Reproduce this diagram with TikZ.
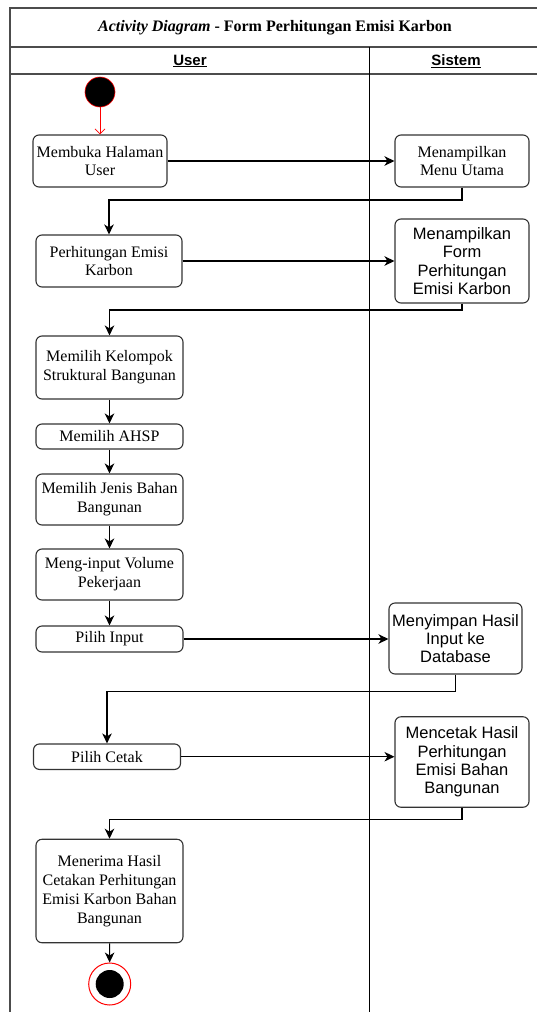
\documentclass[tikz,border=0pt]{standalone}
\usepackage{fontspec}
\setmainfont{Liberation Serif}
\setsansfont{Liberation Sans}
\usetikzlibrary{arrows.meta}
\begin{document}
\begin{tikzpicture}[x=1pt,y=-1pt,
  frameline/.style={draw=black!70, line width=1.4pt},
  laneline/.style={draw=black, line width=1pt},
  act/.style={draw=black!80, line width=1.1pt, rounded corners=6pt, align=center,
    inner sep=0pt, minimum width=147pt, font=\fontsize{16}{18.8}\selectfont},
  actsans/.style={act, font=\sffamily\fontsize{16.5}{18.3}\selectfont},
  flow/.style={draw=black, line width=1.2pt, -{Stealth[length=10pt,width=9.5pt,inset=3pt]}},
  startflow/.style={draw=red, line width=0.8pt, -{Straight Barb[length=5pt,width=10pt]}},
  lanehead/.style={font=\sffamily\bfseries\fontsize{15}{18}\selectfont}
]
\clip (0,0) rectangle (537,1012);

% swimlane frame
\draw[frameline] (10,1030) -- (10,8) -- (560,8);
\draw[frameline] (10,47) -- (560,47);
\draw[frameline] (10,74) -- (560,74);
\draw[laneline] (369,47) -- (369,1030);

\node[font=\fontsize{16}{19}\selectfont] (title) at (275,28)
  {\textbf{\textit{Activity Diagram}} \textbf{- Form Perhitungan Emisi Karbon}};
\node[lanehead] (uhead) at (190,61) {\underline{User}};
\node[lanehead] (shead) at (456,61) {\underline{Sistem}};

% initial and final states
\node[circle, fill=black, draw=red, line width=0.6pt, minimum size=30pt, inner sep=0pt] (start) at (100,92) {};
\node[circle, draw=red, line width=1pt, minimum size=42pt, inner sep=0pt] (stop) at (109.7,984) {};
\node[circle, fill=black, minimum size=28pt, inner sep=0pt] (stopin) at (stop.center) {};

% User lane
\node[act, minimum width=134pt, minimum height=52pt] (a1) at (100,161) {Membuka Halaman\\User};
\node[act, minimum width=146pt, minimum height=52pt] (a2) at (109,261) {Perhitungan Emisi\\Karbon};
\node[act, minimum height=63pt] (a3) at (109.5,367.5) {Memilih Kelompok\\Struktural Bangunan};
\node[act, minimum height=25pt] (a4) at (109.5,436.5) {Memilih AHSP};
\node[act, minimum height=51pt] (a5) at (109.5,499.5) {Memilih Jenis Bahan\\Bangunan};
\node[act, minimum height=51pt] (a6) at (109.5,574.5) {Meng-input Volume\\Pekerjaan};
\node[act, minimum height=26pt] (a7) at (109.5,639) {Pilih Input};
\node[act, minimum height=25.5pt] (a8) at (107,756.7) {Pilih Cetak};
\node[act, minimum height=103.5pt] (a9) at (109.5,891) {Menerima Hasil\\Cetakan Perhitungan\\Emisi Karbon Bahan\\Bangunan};

% Sistem lane
\node[act, minimum width=134pt, minimum height=52pt] (s1) at (462,161) {Menampilkan\\Menu Utama};
\node[actsans, minimum width=134pt, minimum height=84pt] (s2) at (462,261) {Menampilkan\\Form\\Perhitungan\\Emisi Karbon};
\node[actsans, minimum width=133pt, minimum height=71pt] (s3) at (455.5,638.5) {Menyimpan Hasil\\Input ke\\Database};
\node[actsans, minimum width=134pt, minimum height=90.5pt] (s4) at (462,762) {Mencetak Hasil\\Perhitungan\\Emisi Bahan\\Bangunan};

% control flow
\draw[startflow] (start) -- (a1);
\draw[flow] (a1) -- (s1);
\draw[flow] (s1.south) -- ++(0,12.5) -| (a2.north);
\draw[flow] (a2) -- (s2);
\draw[flow] (s2.south) -- ++(0,6.5) -| (a3.north);
\draw[flow] (a3) -- (a4);
\draw[flow] (a4) -- (a5);
\draw[flow] (a5) -- (a6);
\draw[flow] (a6) -- (a7);
\draw[flow] (a7) -- (a7 -| s3.west);
\draw[flow] (s3.south) -- ++(0,17) -| (a8.north);
\draw[flow] (a8) -- (a8 -| s4.west);
\draw[flow] (s4.south) -- ++(0,12) -| (a9.north);
\draw[flow] (a9) -- (stop);
\end{tikzpicture}
\end{document}
